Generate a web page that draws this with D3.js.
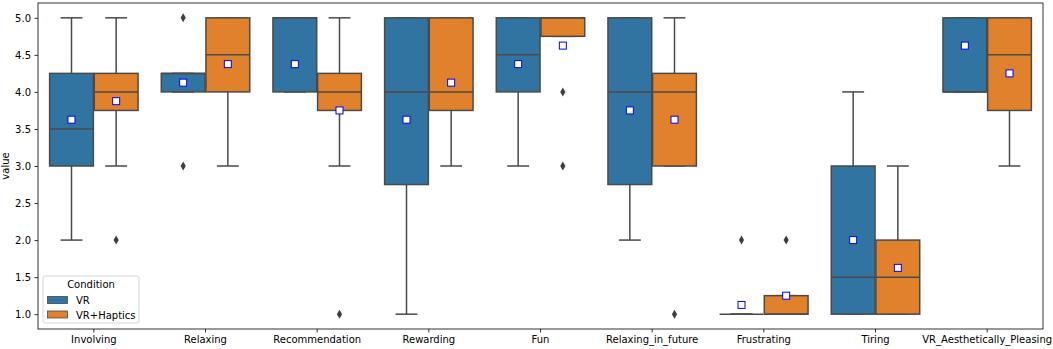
<!DOCTYPE html>
<html>
<head>
<meta charset="utf-8">
<script src="https://cdn.jsdelivr.net/npm/d3@7"></script>
<style>
  body { margin: 0; background: #fff; }
  svg { font-family: "DejaVu Sans", sans-serif; }
</style>
</head>
<body>
<svg id="chart"></svg>
<script>
const categories = ["Involving", "Relaxing", "Recommendation", "Rewarding", "Fun",
  "Relaxing_in_future", "Frustrating", "Tiring", "VR_Aesthetically_Pleasing"]
const conditions = ["VR", "VR+Haptics"]
const colors = ["#3274a1", "#e1812c"]

// box stats per category
const vrLow     = [2,    4,    4,    1,    3,    2,    1,     1,    4]
const vrQ1      = [3,    4,    4,    2.75, 4,    2.75, 1,     1,    4]
const vrMedian  = [3.5,  4.25, 5,    4,    4.5,  4,    1,     1.5,  4]
const vrQ3      = [4.25, 4.25, 5,    5,    5,    5,    1,     3,    5]
const vrHigh    = [5,    4.25, 5,    5,    5,    5,    1,     4,    5]
const vrMean    = [3.625, 4.125, 4.375, 3.625, 4.375, 3.75, 1.125, 2.0, 4.625]
const vrOutliers = [[], [5, 3], [], [], [], [], [2], [], []]

const hapLow    = [3,    3,    3,    3,    4.75, 3,    1,     1,    3]
const hapQ1     = [3.75, 4,    3.75, 3.75, 4.75, 3,    1,     1,    3.75]
const hapMedian = [4,    4.5,  4,    4,    5,    4,    1,     1.5,  4.5]
const hapQ3     = [4.25, 5,    4.25, 5,    5,    4.25, 1.25,  2,    5]
const hapHigh   = [5,    5,    5,    5,    5,    5,    1.25,  3,    5]
const hapMean   = [3.875, 4.375, 3.75, 4.125, 4.625, 3.625, 1.25, 1.625, 4.25]
const hapOutliers = [[2], [], [1], [], [4, 3], [1], [2], [], []]

const yTicks = [1.0, 1.5, 2.0, 2.5, 3.0, 3.5, 4.0, 4.5, 5.0]

const width = 1053, height = 349
const margin = {left: 38, right: 10, top: 3, bottom: 20}

const svg = d3.select("#chart").attr("width", width).attr("height", height)

const x = d3.scaleBand().domain(categories)
  .range([margin.left, width - margin.right]).padding(0)
const hue = d3.scaleBand().domain(conditions)
  .range([-x.bandwidth() * 0.4, x.bandwidth() * 0.4])
const y = d3.scaleLinear().domain([0.8, 5.2]).range([height - margin.bottom, margin.top])

const lineColor = "#4a4a4a"
const boxW = hue.bandwidth() * 0.98

const stats = [
  {low: vrLow, q1: vrQ1, med: vrMedian, q3: vrQ3, high: vrHigh, mean: vrMean, out: vrOutliers},
  {low: hapLow, q1: hapQ1, med: hapMedian, q3: hapQ3, high: hapHigh, mean: hapMean, out: hapOutliers}
]

const data = []
categories.forEach((c, i) => {
  conditions.forEach((h, j) => {
    const s = stats[j]
    data.push({cat: c, cond: h, color: colors[j], low: s.low[i], q1: s.q1[i], med: s.med[i],
      q3: s.q3[i], high: s.high[i], mean: s.mean[i], out: s.out[i]})
  })
})

const g = svg.append("g")
const boxes = g.selectAll("g.box").data(data).join("g")
  .attr("class", "box")
  .attr("transform", d => `translate(${x(d.cat) + x.bandwidth() / 2 + hue(d.cond) + hue.bandwidth() / 2},0)`)

// whiskers
boxes.append("line")
  .attr("y1", d => y(d.low)).attr("y2", d => y(d.q1))
  .attr("stroke", lineColor).attr("stroke-width", 1.5)
boxes.append("line")
  .attr("y1", d => y(d.q3)).attr("y2", d => y(d.high))
  .attr("stroke", lineColor).attr("stroke-width", 1.5)
// caps
boxes.selectAll("line.cap").data(d => [d.low, d.high]).join("line")
  .attr("class", "cap")
  .attr("x1", -boxW / 4).attr("x2", boxW / 4)
  .attr("y1", v => y(v)).attr("y2", v => y(v))
  .attr("stroke", lineColor).attr("stroke-width", 1.5)
// box
boxes.append("rect")
  .attr("x", -boxW / 2).attr("width", boxW)
  .attr("y", d => y(d.q3)).attr("height", d => y(d.q1) - y(d.q3))
  .attr("fill", d => d.color)
  .attr("stroke", lineColor).attr("stroke-width", 1.5)
// median
boxes.append("line")
  .attr("x1", -boxW / 2).attr("x2", boxW / 2)
  .attr("y1", d => y(d.med)).attr("y2", d => y(d.med))
  .attr("stroke", lineColor).attr("stroke-width", 1.5)
// outliers (thin diamonds)
boxes.selectAll("path.out").data(d => d.out).join("path")
  .attr("class", "out")
  .attr("d", v => `M0,${y(v) - 4.5}L2.6,${y(v)}L0,${y(v) + 4.5}L-2.6,${y(v)}Z`)
  .attr("fill", "#3f3f3f")
// mean markers
boxes.append("rect")
  .attr("x", -3.5).attr("width", 7)
  .attr("y", d => y(d.mean) - 3.5).attr("height", 7)
  .attr("fill", "#fff").attr("stroke", "#0000ff").attr("stroke-width", 1)

// axes
const xAxis = svg.append("g")
  .attr("transform", `translate(0,${height - margin.bottom})`)
  .call(d3.axisBottom(x).tickSize(3.5).tickPadding(3.5))
const yAxis = svg.append("g")
  .attr("transform", `translate(${margin.left},0)`)
  .call(d3.axisLeft(y).tickValues(yTicks).tickFormat(d3.format(".1f")).tickSize(3.5).tickPadding(3.5))
;[xAxis, yAxis].forEach(a => {
  a.select(".domain").remove()
  a.selectAll("text").attr("font-size", 10).attr("fill", "#000").attr("font-family", "DejaVu Sans")
  a.selectAll("line").attr("stroke", "#000").attr("stroke-width", 0.8)
})

// frame
svg.append("rect")
  .attr("x", margin.left).attr("y", margin.top)
  .attr("width", width - margin.left - margin.right)
  .attr("height", height - margin.top - margin.bottom)
  .attr("fill", "none").attr("stroke", "#000").attr("stroke-width", 0.8)

svg.append("text")
  .attr("transform", `translate(9,${(margin.top + height - margin.bottom) / 2}) rotate(-90)`)
  .attr("text-anchor", "middle").attr("font-size", 10).text("value")

// legend
const leg = svg.append("g").attr("transform", "translate(43,276)")
leg.append("rect").attr("width", 96).attr("height", 47).attr("rx", 2)
  .attr("fill", "#fff").attr("fill-opacity", 0.8).attr("stroke", "#cccccc").attr("stroke-width", 0.8)
leg.append("text").attr("x", 48).attr("y", 12).attr("text-anchor", "middle")
  .attr("font-size", 10).text("Condition")
conditions.forEach((c, i) => {
  leg.append("rect").attr("x", 4.5).attr("y", 20.5 + i * 14.5).attr("width", 20).attr("height", 7)
    .attr("fill", colors[i]).attr("stroke", lineColor).attr("stroke-width", 0.8)
  leg.append("text").attr("x", 33).attr("y", 28 + i * 14.5)
    .attr("font-size", 10).text(c)
})
</script>
</body>
</html>
